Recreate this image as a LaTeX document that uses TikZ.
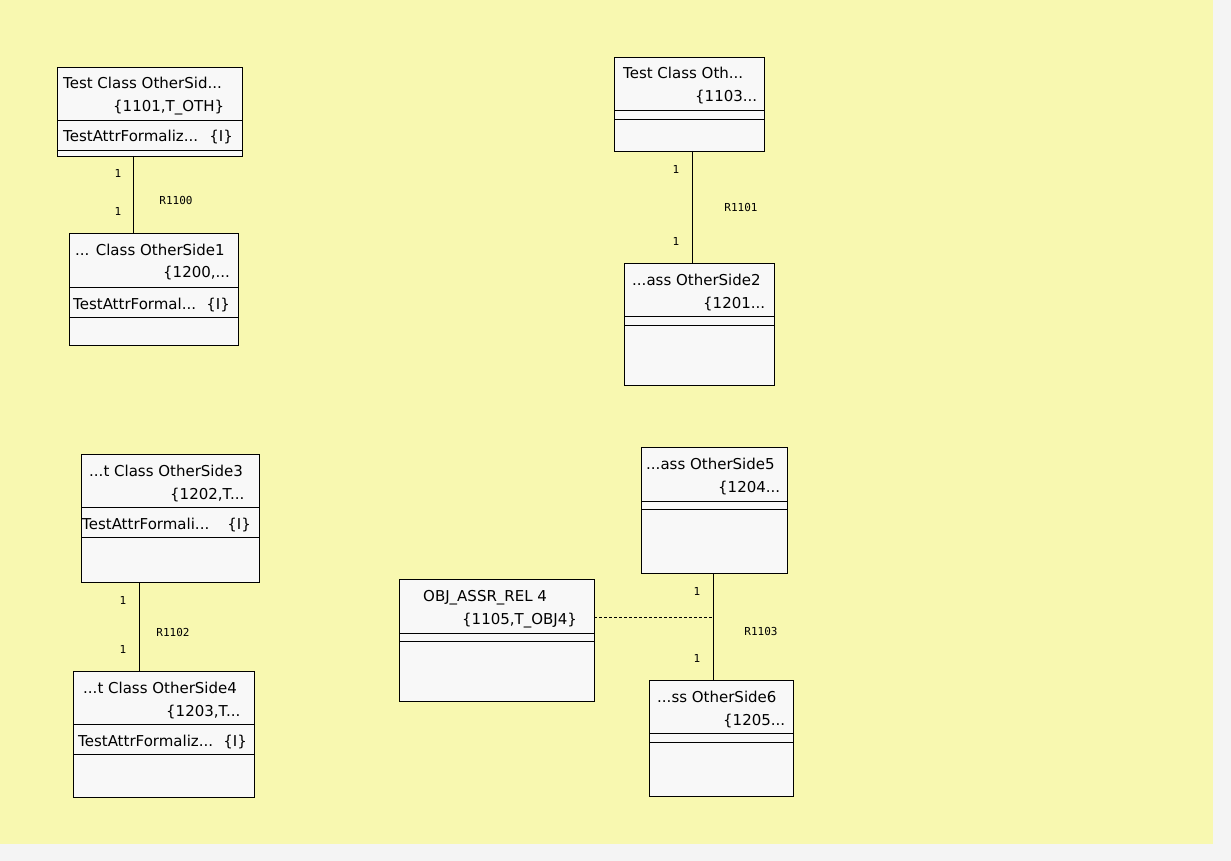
\documentclass[tikz,border=0pt]{standalone}
\usepackage{fontspec}
\setmainfont{DejaVu Sans}
\newfontfamily\labelfont{DejaVu Sans Mono}
\definecolor{canvas}{RGB}{248,248,176}
\definecolor{outerbg}{RGB}{244,244,244}
\definecolor{boxfill}{RGB}{248,248,248}

% class box: name, x, y, width, height, first separator, second separator
\newcommand\umlclass[7]{%
  \node[classbox, minimum width=#4pt, minimum height=#5pt] (#1) at (#2,#3) {};
  \draw[sepline] (#1.north west) ++(0,#6) -- ++(#4,0);
  \draw[sepline] (#1.north west) ++(0,#7) -- ++(#4,0);
}

\begin{document}
\begin{tikzpicture}[x=1pt,y=-1pt,
  classbox/.style={draw=black, fill=boxfill, line width=0.9pt, inner sep=0pt, outer sep=0pt, anchor=north west},
  sepline/.style={draw=black, line width=0.9pt},
  txt/.style={anchor=base west, inner sep=0pt, font=\fontsize{15}{17}\selectfont},
  txtr/.style={anchor=base east, inner sep=0pt, font=\fontsize{15}{17}\selectfont},
  mult/.style={inner sep=0pt, font=\labelfont\fontsize{11}{13}\selectfont},
  assoc/.style={draw=black, line width=0.9pt},
  link/.style={draw=black, line width=0.9pt, dash pattern=on 3pt off 2pt},
  ]
\useasboundingbox (0,0) rectangle (1231,861);
\fill[outerbg] (0,0) rectangle (1231,861);
\fill[canvas] (0,0) rectangle (1213,844);

% classes
\umlclass{A}{57}{67}{185}{89}{53}{83}
\umlclass{B}{69}{233}{169}{112}{54}{84}
\umlclass{C}{614}{57}{150}{94}{53}{62}
\umlclass{D}{624}{263}{150}{122}{53}{62}
\umlclass{E}{81}{454}{178}{128}{53}{83}
\umlclass{F}{73}{671}{181}{126}{53}{83}
\umlclass{G}{641}{447}{146}{126}{54}{62}
\umlclass{H}{399}{579}{195}{122}{54}{62}
\umlclass{I}{649}{680}{144}{116}{53}{62}

% class texts
\node[txt] (At1) at (63,89) {Test Class OtherSid...};
\node[txt] (At2) at (113,112) {\{1101,T\_OTH\}};
\node[txt] (Aa) at (63,142) {TestAttrFormaliz...};
\node[txtr] (Ai) at (233,142) {\{I\}};

\node[txt] (Bt1) at (75,255) {... Class OtherSide1};
\node[txt] (Bt2) at (163,277) {\{1200,...};
\node[txt] (Ba) at (73,309) {TestAttrFormal...};
\node[txtr] (Bi) at (230,309) {\{I\}};

\node[txt] (Ct1) at (623,79) {Test Class Oth...};
\node[txt] (Ct2) at (695,102) {\{1103...};

\node[txt] (Dt1) at (632,285) {...ass OtherSide2};
\node[txt] (Dt2) at (703,308) {\{1201...};

\node[txt] (Et1) at (89,476) {...t Class OtherSide3};
\node[txt] (Et2) at (170,499) {\{1202,T...};
\node[txt] (Ea) at (82,529) {TestAttrFormali...};
\node[txtr] (Ei) at (251,529) {\{I\}};

\node[txt] (Ft1) at (83,693) {...t Class OtherSide4};
\node[txt] (Ft2) at (166,716) {\{1203,T...};
\node[txt] (Fa) at (78,746) {TestAttrFormaliz...};
\node[txtr] (Fi) at (247,746) {\{I\}};

\node[txt] (Gt1) at (646,469) {...ass OtherSide5};
\node[txt] (Gt2) at (718,492) {\{1204...};

\node[txt] (Ht1) at (423,601) {OBJ\_ASSR\_REL 4};
\node[txt] (Ht2) at (462,624) {\{1105,T\_OBJ4\}};

\node[txt] (It1) at (657,702) {...ss OtherSide6};
\node[txt] (It2) at (723,725) {\{1205...};

% association lines
\coordinate (x1100) at (133,0);
\coordinate (x1101) at (692,0);
\coordinate (x1102) at (139,0);
\coordinate (x1103) at (713,0);
\draw[assoc] (A.south -| x1100) -- (B.north -| x1100);
\draw[assoc] (C.south -| x1101) -- (D.north -| x1101);
\draw[assoc] (E.south -| x1102) -- (F.north -| x1102);
\draw[assoc] (G.south -| x1103) -- (I.north -| x1103);

% associative class link
\coordinate (j1103) at (713,617);
\draw[link] (H.east |- j1103) -- (j1103);

% multiplicities and association names
\node[mult] (m1) at (118,173) {1};
\node[mult] (m2) at (118,211) {1};
\node[mult] (r1) at (176,200) {R1100};

\node[mult] (m3) at (676,169) {1};
\node[mult] (m4) at (676,241) {1};
\node[mult] (r2) at (741,207) {R1101};

\node[mult] (m5) at (123,600) {1};
\node[mult] (m6) at (123,649) {1};
\node[mult] (r3) at (173,632) {R1102};

\node[mult] (m7) at (697,591) {1};
\node[mult] (m8) at (697,658) {1};
\node[mult] (r4) at (761,631) {R1103};
\end{tikzpicture}
\end{document}
